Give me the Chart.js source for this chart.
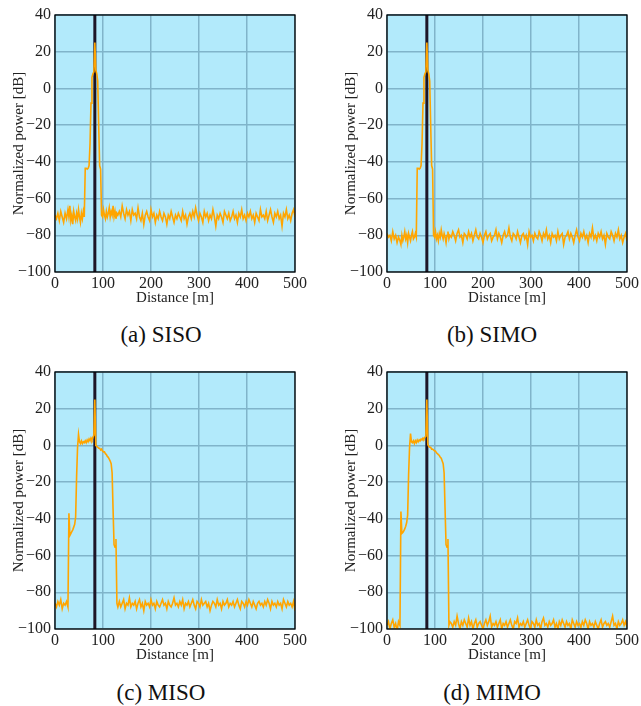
<!DOCTYPE html>
<html>
<head>
<meta charset="utf-8">
<script src="https://cdn.jsdelivr.net/npm/chart.js@4.4.1/dist/chart.umd.min.js"></script>
<style>
  body { margin: 0; width: 641px; height: 706px; position: relative; overflow: hidden; background: #fff; font-family: 'Liberation Serif', serif; }
  canvas { position: absolute; }
  .caption { position: absolute; width: 200px; text-align: center; font-size: 23px; line-height: 24px; color: #111; }
</style>
</head>
<body>
<canvas id="siso" width="309" height="316" style="left:0;top:0"></canvas>
<canvas id="simo" width="309" height="316" style="left:332px;top:0"></canvas>
<canvas id="miso" width="309" height="316" style="left:0;top:357px"></canvas>
<canvas id="mimo" width="309" height="316" style="left:332px;top:357px"></canvas>
<div class="caption" style="left:61px;top:323px">(a) SISO</div>
<div class="caption" style="left:392px;top:323px">(b) SIMO</div>
<div class="caption" style="left:61px;top:681px">(c) MISO</div>
<div class="caption" style="left:392px;top:681px">(d) MIMO</div>
<script>
// distance samples [m], finer around the target
const distance = [
  0, 3, 6, 9, 12, 15, 18, 21, 24, 27,
  29, 31, 33, 35, 37, 39, 41, 43, 45, 47, 49, 51, 53, 55, 57, 59, 61, 63, 65, 67,
  69, 71, 73, 75, 77, 79, 81, 83, 85, 87, 89, 91, 93, 95, 97, 99, 101, 103, 105, 107,
  109, 111, 113, 115, 117, 119, 121, 123, 125, 127, 129, 131,
  134, 137, 140, 143, 146, 149, 152, 155, 158, 161, 164, 167, 170, 173, 176, 179, 182, 185, 188, 191,
  194, 197, 200, 203, 206, 209, 212, 215, 218, 221, 224, 227, 230, 233, 236, 239, 242, 245, 248, 251,
  254, 257, 260, 263, 266, 269, 272, 275, 278, 281, 284, 287, 290, 293, 296, 299, 302, 305, 308, 311,
  314, 317, 320, 323, 326, 329, 332, 335, 338, 341, 344, 347, 350, 353, 356, 359, 362, 365, 368, 371,
  374, 377, 380, 383, 386, 389, 392, 395, 398, 401, 404, 407, 410, 413, 416, 419, 422, 425, 428, 431,
  434, 437, 440, 443, 446, 449, 452, 455, 458, 461, 464, 467, 470, 473, 476, 479, 482, 485, 488, 491,
  494, 497, 500
];

// normalized power [dB]
const sisoPower = [
  -69, -71, -68, -72, -67, -70, -73, -68, -71, -66,
  -70, -64, -72, -69, -74, -67, -70, -72, -68, -71, -66, -70, -73, -68, -71, -67, -70,
  -43.5, -43.5, -44, -43.5, -42, -30, -8, 6, 8, 9, 25, 10, 8, 4, -20, -42, -44, -69,
  -70, -66, -69, -71, -67, -70, -68, -65, -70, -67, -69, -64, -70, -67, -71, -68, -69,
  -67, -70, -64, -68, -71, -66, -69, -67, -72, -66,
  -69, -68, -71, -65, -70, -72, -68, -74, -69, -67,
  -70, -72, -66, -70, -68, -73, -69, -71, -67, -70,
  -72, -68, -70, -74, -69, -71, -67, -70, -73, -69,
  -71, -68, -70, -72, -67, -71, -69, -74, -70, -68,
  -71, -67, -70, -65, -69, -72, -68, -70, -73, -67,
  -70, -68, -72, -69, -71, -66, -70, -75, -69, -71,
  -68, -70, -73, -67, -69, -71, -68, -72, -70, -67,
  -71, -69, -73, -68, -70, -66, -71, -69, -72, -68,
  -70, -67, -71, -69, -73, -68, -70, -72, -66, -70,
  -69, -71, -67, -72, -69, -66, -70, -73, -68, -70,
  -67, -71, -69, -75, -68, -70, -66, -71, -69, -72,
  -68, -66, -70
];

const simoPower = [
  -79, -81, -80, -83, -78, -82, -80, -84, -81, -83,
  -85, -80, -83, -81, -78, -82, -80, -84, -79, -81, -83, -80, -78, -82, -81, -79, -81,
  -43.5, -43.5, -44, -43.5, -42, -30, -8, 6, 8, 9, 25, 10, 8, 4, -20, -42, -44, -80,
  -81, -78, -82, -80, -83, -79, -81, -77, -80, -82, -79, -81, -84, -80, -78, -82, -80,
  -81, -78, -80, -83, -79, -77, -81, -80, -84, -79,
  -80, -82, -78, -81, -79, -83, -80, -77, -81, -82,
  -79, -81, -84, -80, -78, -82, -80, -79, -83, -81,
  -80, -77, -82, -79, -81, -84, -80, -78, -81, -80,
  -76, -81, -83, -79, -80, -82, -78, -81, -84, -80,
  -79, -82, -80, -85, -78, -81, -80, -83, -79, -81,
  -82, -78, -80, -83, -79, -81, -77, -82, -80, -84,
  -79, -81, -80, -83, -78, -82, -80, -79, -85, -81,
  -80, -78, -82, -79, -81, -84, -80, -77, -81, -83,
  -79, -81, -78, -82, -80, -84, -79, -81, -76, -82,
  -80, -83, -79, -81, -78, -82, -80, -85, -79, -81,
  -82, -78, -80, -83, -79, -81, -77, -82, -80, -84,
  -81, -79, -83
];

const misoPower = [
  -86, -88, -85, -87, -84, -89, -86, -87, -85, -88,
  -37, -49, -48, -47, -46, -44.5, -43, -39, -17, -1,
  6, 2, 1, 2.5, 1, 2, 1.5, 2.5, 1.5, 3,
  2, 3.5, 2.5, 4, 3, 4.5, 5.5, 25, 0, -0.5,
  -1, -1.5, -1.5, -2.5, -2, -3, -3.5, -3.5, -4.5, -5,
  -6, -6.5, -7.5, -8.5, -10, -15, -35, -54, -55.5, -51,
  -86, -88,
  -85, -88, -86, -84, -89, -86, -87, -83, -88, -86,
  -87, -85, -89, -86, -84, -88, -86, -90, -85, -87,
  -86, -88, -84, -87, -86, -89, -85, -87, -88, -86,
  -84, -87, -86, -89, -85, -87, -88, -86, -83, -87,
  -86, -88, -85, -87, -84, -89, -86, -87, -85, -88,
  -86, -84, -87, -89, -85, -86, -88, -84, -87, -86,
  -85, -88, -86, -90, -87, -85, -86, -88, -84, -87,
  -86, -89, -85, -87, -86, -84, -88, -86, -87, -85,
  -88, -86, -84, -87, -89, -85, -86, -88, -85, -87,
  -84, -86, -88, -85, -87, -89, -86, -85, -87, -86,
  -88, -85, -87, -84, -86, -89, -85, -87, -86, -88,
  -85, -87, -86, -89, -84, -86, -88, -85, -87, -86,
  -88, -85, -90
];

const mimoPower = [
  -98, -96, -100, -97, -95, -99, -97, -101, -96, -98,
  -36, -48, -47.5, -46.5, -45.5, -44, -42, -38, -16, -1,
  6.5, 2, 1.5, 2.5, 1, 2.5, 1.5, 3, 2, 3,
  2.5, 3.5, 3, 4, 3.5, 4.5, 5, 25, 0.5, -0.5,
  -1, -1, -2, -2, -2.5, -3, -3, -4, -4.5, -5,
  -5.5, -6.5, -7, -8.5, -10, -15, -35, -54, -55.5, -51,
  -98, -96,
  -97, -99, -96, -98, -93, -97, -100, -96, -98, -95,
  -97, -99, -94, -98, -96, -100, -97, -95, -99, -97,
  -96, -98, -100, -97, -95, -98, -96, -93, -99, -97,
  -98, -96, -99, -97, -95, -100, -97, -98, -96, -99,
  -97, -95, -98, -100, -96, -97, -94, -99, -97, -98,
  -96, -99, -97, -95, -98, -100, -96, -97, -99, -95,
  -98, -97, -100, -96, -94, -98, -97, -99, -96, -98,
  -97, -95, -99, -97, -100, -96, -98, -95, -97, -99,
  -96, -98, -97, -100, -95, -97, -99, -96, -98, -97,
  -99, -96, -98, -95, -97, -100, -96, -98, -97, -99,
  -96, -98, -100, -97, -95, -99, -97, -96, -98, -97,
  -99, -96, -93, -98, -97, -100, -96, -98, -97, -95,
  -98, -96, -99
];

const targetDistance = 83;
const xTicks = [0, 100, 200, 300, 400, 500];
const yTicks = [40, 20, 0, -20, -40, -60, -80, -100];

const tickFont = { family: 'Liberation Serif', size: 16 };
const titleFont = { family: 'Liberation Serif', size: 15 };
const gridColor = '#80b4ca';

// light blue plot background + black frame round the plot area
const frame = {
  id: 'frame',
  beforeDraw(chart) {
    const { ctx, chartArea: a } = chart;
    ctx.save();
    ctx.fillStyle = '#b2eafb';
    ctx.fillRect(a.left, a.top, a.right - a.left, a.bottom - a.top);
    ctx.restore();
  },
  afterDraw(chart) {
    const { ctx, chartArea: a } = chart;
    ctx.save();
    ctx.strokeStyle = '#000';
    ctx.lineWidth = 1.3;
    ctx.strokeRect(a.left, a.top, a.right - a.left, a.bottom - a.top);
    ctx.restore();
  }
};

function makeChart(id, power) {
  const yMax = yTicks[0], yMin = yTicks[yTicks.length - 1];
  new Chart(document.getElementById(id), {
    type: 'line',
    data: {
      datasets: [
        {
          data: distance.map((d, i) => ({ x: d, y: power[i] })),
          borderColor: '#ffa500',
          borderWidth: 1.6,
          pointRadius: 0,
          tension: 0,
          clip: 0
        },
        {
          data: [{ x: targetDistance, y: yMax }, { x: targetDistance, y: yMin }],
          borderColor: '#1d1526',
          borderWidth: 3,
          pointRadius: 0
        }
      ]
    },
    options: {
      responsive: false,
      animation: false,
      devicePixelRatio: 1,
      layout: { padding: { left: 0, top: 15, right: 12, bottom: 0 } },
      plugins: { legend: { display: false }, tooltip: { enabled: false } },
      scales: {
        x: {
          type: 'linear',
          min: xTicks[0],
          max: xTicks[xTicks.length - 1],
          afterBuildTicks: s => { s.ticks = xTicks.map(v => ({ value: v })); },
          afterFit: s => { s.height = 44; },
          grid: { color: gridColor, lineWidth: 1.5, drawTicks: false },
          border: { display: false },
          ticks: { font: tickFont, color: '#222', padding: 2, maxRotation: 0, autoSkip: false },
          title: { display: true, text: 'Distance [m]', font: titleFont, color: '#222', padding: { top: 0, bottom: 9 } }
        },
        y: {
          min: yMin,
          max: yMax,
          afterBuildTicks: s => { s.ticks = yTicks.map(v => ({ value: v })); },
          afterFit: s => { s.width = 55; },
          grid: { color: gridColor, lineWidth: 1.5, drawTicks: false },
          border: { display: false },
          ticks: {
            font: tickFont, color: '#222', padding: 4, autoSkip: false,
            callback: v => String(v).replace('-', '\u2212')
          },
          title: { display: true, text: 'Normalized power [dB]', font: titleFont, color: '#222', padding: { top: 10, bottom: 0 } }
        }
      }
    },
    plugins: [frame]
  });
}

makeChart('siso', sisoPower);
makeChart('simo', simoPower);
makeChart('miso', misoPower);
makeChart('mimo', mimoPower);
</script>
</body>
</html>
